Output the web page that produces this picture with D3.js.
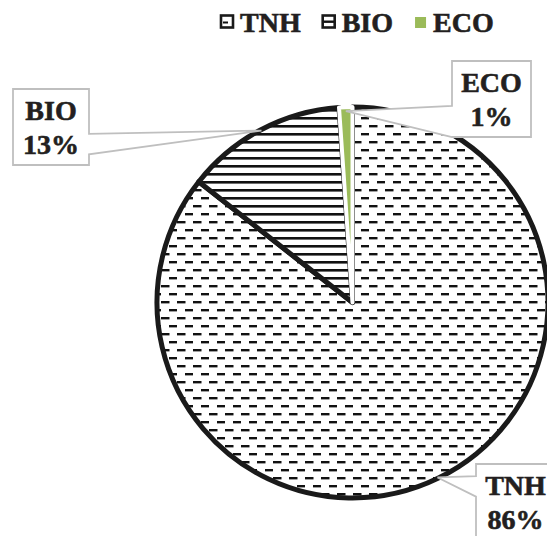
<!DOCTYPE html>
<html>
<head>
<meta charset="utf-8">
<script src="https://cdn.jsdelivr.net/npm/d3@7"></script>
<style>
  html, body { margin: 0; padding: 0; background: #fff; }
  svg { display: block; }
  text { font-family: "Liberation Serif", "Times New Roman", serif; font-weight: bold; fill: #231f20; stroke: #231f20; stroke-width: 0.6; }
</style>
</head>
<body>
<svg id="chart" width="547" height="536"></svg>
<script>
// ---- data ----
const categories = ["TNH", "BIO", "ECO"];
const values = [85.6, 13.3, 1.1];
const percentLabels = ["86%", "13%", "1%"];
const fills = ["url(#patTNH)", "url(#patBIO)", "#9bbb59"];

// ---- layout ----
const W = 547, H = 536;
const cx = 352.5, cy = 302.5, R = 195.5;

const svg = d3.select("#chart");
const defs = svg.append("defs");

// TNH: dashed horizontal pattern
const pT = defs.append("pattern").attr("id", "patTNH").attr("patternUnits", "userSpaceOnUse")
  .attr("width", 16).attr("height", 16).attr("x", cx).attr("y", cy);
pT.append("rect").attr("width", 16).attr("height", 16).attr("fill", "#fff");
pT.append("rect").attr("x", 0).attr("y", 0).attr("width", 8.5).attr("height", 2.4).attr("fill", "#111");
pT.append("rect").attr("x", 8).attr("y", 8).attr("width", 8.5).attr("height", 2.4).attr("fill", "#111");

// BIO: horizontal lines pattern
const pB = defs.append("pattern").attr("id", "patBIO").attr("patternUnits", "userSpaceOnUse")
  .attr("width", 8).attr("height", 8).attr("x", 0).attr("y", cy);
pB.append("rect").attr("width", 8).attr("height", 8).attr("fill", "#fff");
pB.append("rect").attr("x", 0).attr("y", 0).attr("width", 8).attr("height", 2.6).attr("fill", "#111");

// legend icon patterns (smaller)
const pT2 = defs.append("pattern").attr("id", "patTNHs").attr("patternUnits", "userSpaceOnUse")
  .attr("width", 12).attr("height", 12).attr("x", 221).attr("y", 15);
pT2.append("rect").attr("width", 12).attr("height", 12).attr("fill", "#fff");
pT2.append("rect").attr("x", 2).attr("y", 6.5).attr("width", 5).attr("height", 2).attr("fill", "#111");
const pB2 = defs.append("pattern").attr("id", "patBIOs").attr("patternUnits", "userSpaceOnUse")
  .attr("width", 14).attr("height", 13).attr("x", 322).attr("y", 15);
pB2.append("rect").attr("width", 14).attr("height", 13).attr("fill", "#fff");
pB2.append("rect").attr("x", 0).attr("y", 5.5).attr("width", 14).attr("height", 2.4).attr("fill", "#111");
const legendFills = ["url(#patTNHs)", "url(#patBIOs)", "#9bbb59"];

// ---- pie ----
const pie = d3.pie().sort(null).value(d => d.v).startAngle(0).endAngle(2 * Math.PI);
const data = categories.map((c, i) => ({ c, v: values[i], fill: fills[i], pct: percentLabels[i] }));
const arcs = pie(data);
const arc = d3.arc().innerRadius(0).outerRadius(R);

const g = svg.append("g").attr("transform", `translate(${cx},${cy})`);
g.selectAll("path.slice").data(arcs).join("path")
  .attr("class", "slice")
  .attr("d", arc)
  .attr("fill", d => d.data.fill)
  .attr("stroke", d => d.data.c === "ECO" ? "#fff" : "#1a1a1a")
  .attr("stroke-width", d => d.data.c === "ECO" ? 4 : 5)
  .attr("stroke-linejoin", "round");
g.selectAll("path.slice").filter(d => d.data.c === "ECO").raise();

// ---- callout labels ----
const boxes = {
  BIO: { x: 13, y: 89, w: 76, h: 76, side: "right", f1: 0.59, f2: 0.86, tr: R - 1 },
  ECO: { x: 452, y: 61, w: 79, h: 76, side: "left", f1: 0.59, f2: 1.0, tr: R - 4 },
  TNH: { x: 476, y: 464, w: 79, h: 76, side: "left", f1: 0.16, f2: 0.43, tr: R - 1 }
};

function calloutPath(b, tx, ty) {
  const { x, y, w, h, side, f1, f2 } = b;
  if (side === "right") {
    return `M${x},${y}L${x + w},${y}L${x + w},${y + f1 * h}L${tx},${ty}L${x + w},${y + f2 * h}L${x + w},${y + h}L${x},${y + h}Z`;
  }
  return `M${x},${y}L${x + w},${y}L${x + w},${y + h}L${x},${y + h}L${x},${y + f2 * h}L${tx},${ty}L${x},${y + f1 * h}Z`;
}

const lab = svg.append("g");
arcs.forEach(a => {
  const b = boxes[a.data.c];
  const mid = (a.startAngle + a.endAngle) / 2;
  const tx = cx + b.tr * Math.sin(mid);
  const ty = cy - b.tr * Math.cos(mid);
  lab.append("path").attr("d", calloutPath(b, tx, ty))
    .attr("fill", "#fff").attr("stroke", "#bfbfbf").attr("stroke-width", 1.8)
    .attr("stroke-linejoin", "miter");
  const t = lab.append("text").attr("text-anchor", "middle").attr("font-size", 28);
  t.append("tspan").attr("x", b.x + b.w / 2).attr("y", b.y + 31).text(a.data.c);
  t.append("tspan").attr("x", b.x + b.w / 2).attr("y", b.y + 65).text(a.data.pct);
});

// ---- legend ----
const leg = svg.append("g");
let lx = 221;
categories.forEach((c, i) => {
  const isEco = c === "ECO";
  const s = isEco ? 11 : 12;
  leg.append("rect")
    .attr("x", lx).attr("y", isEco ? 17 : 15.5)
    .attr("width", s).attr("height", s)
    .attr("fill", legendFills[i])
    .attr("stroke", isEco ? "none" : "#1a1a1a")
    .attr("stroke-width", 2.6);
  const t = leg.append("text").attr("x", lx + s + 7).attr("y", 32)
    .attr("font-size", 28).text(c);
  const len = t.node().getComputedTextLength();
  lx = lx + s + 7 + len + 22;
});
</script>
</body>
</html>
